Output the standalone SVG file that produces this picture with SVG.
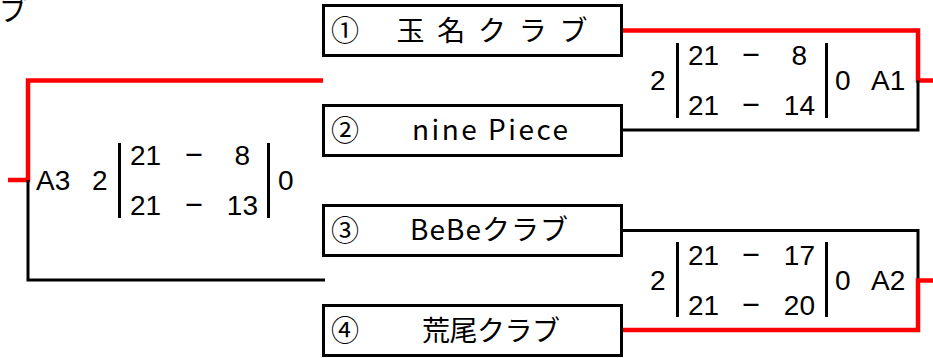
<svg xmlns="http://www.w3.org/2000/svg" width="933" height="358" viewBox="0 0 933 358">
<style>
.box{fill:#fff;stroke:#000;stroke-width:3}
.jp{font-family:"Noto Sans CJK JP","Liberation Sans",sans-serif;font-size:28px;fill:#000}
.num{font-family:"Liberation Sans","Noto Sans CJK JP",sans-serif;font-size:28px;fill:#000}
.dash{font-family:"Noto Sans CJK JP",sans-serif;font-size:21px;font-weight:bold;fill:#000;text-anchor:middle}
.bar{stroke:#000;stroke-width:3;fill:none}
.blk{stroke:#000;stroke-width:3;fill:none}
.red{stroke:#ff0000;stroke-width:4.5;fill:none}
</style>
<rect width="933" height="358" fill="#fff"/>
<text class="jp" x="-1" y="21">ブ</text>
<g id="connectors">
<path class="red" d="M323,80.5 H28 V180 H8"/>
<path class="blk" d="M28,180 V280 H325"/>
<path class="red" d="M622,30.5 H918 V80.5 H933"/>
<path class="blk" d="M918,80.5 V130 H622"/>
<path class="blk" d="M622,230.5 H918 V280.5"/>
<path class="red" d="M933,280.5 H918 V330 H622"/>
</g>
<g id="team1">
<rect class="box" x="323.5" y="5.5" width="298" height="50"/>
<text class="jp" x="331" y="41">①</text>
<text class="jp" x="492" y="41" text-anchor="middle" textLength="191" lengthAdjust="spacing" xml:space="preserve">玉 名 ク ラ ブ</text>
</g>
<g id="team2">
<rect class="box" x="323.5" y="105.5" width="298" height="50"/>
<text class="jp" x="331" y="141">②</text>
<text class="jp" x="490" y="140" text-anchor="middle" textLength="156" lengthAdjust="spacing">nine Piece</text>
</g>
<g id="team3">
<rect class="box" x="323.5" y="205.5" width="298" height="50"/>
<text class="jp" x="331" y="241">③</text>
<text class="jp" x="489" y="240" text-anchor="middle" textLength="158" lengthAdjust="spacing">BeBeクラブ</text>
</g>
<g id="team4">
<rect class="box" x="323.5" y="305.5" width="298" height="50"/>
<text class="jp" x="331" y="341">④</text>
<text class="jp" x="491" y="341" text-anchor="middle" textLength="138" lengthAdjust="spacing">荒尾クラブ</text>
</g>
<g id="matchA1">
<text class="num" x="650" y="90">2</text>
<line class="bar" x1="677.5" y1="43" x2="677.5" y2="118"/>
<text class="num" x="688" y="65">21</text>
<text class="dash" x="751" y="62">－</text>
<text class="num" x="807" y="65" text-anchor="end">8</text>
<text class="num" x="688" y="115">21</text>
<text class="dash" x="751" y="112">－</text>
<text class="num" x="815" y="115" text-anchor="end">14</text>
<line class="bar" x1="826.5" y1="43" x2="826.5" y2="118"/>
<text class="num" x="835" y="90">0</text>
<text class="num" x="871" y="90">A1</text>
</g>
<g id="matchA2">
<text class="num" x="650" y="290">2</text>
<line class="bar" x1="677.5" y1="242" x2="677.5" y2="317"/>
<text class="num" x="688" y="265">21</text>
<text class="dash" x="751" y="262">－</text>
<text class="num" x="815" y="265" text-anchor="end">17</text>
<text class="num" x="688" y="315">21</text>
<text class="dash" x="751" y="312">－</text>
<text class="num" x="815" y="315" text-anchor="end">20</text>
<line class="bar" x1="826.5" y1="242" x2="826.5" y2="317"/>
<text class="num" x="835" y="290">0</text>
<text class="num" x="871" y="290">A2</text>
</g>
<g id="matchA3">
<text class="num" x="36" y="190">A3</text>
<text class="num" x="92" y="190">2</text>
<line class="bar" x1="119.5" y1="143" x2="119.5" y2="218"/>
<text class="num" x="130" y="165">21</text>
<text class="dash" x="194" y="162">－</text>
<text class="num" x="250" y="165" text-anchor="end">8</text>
<text class="num" x="130" y="215">21</text>
<text class="dash" x="194" y="212">－</text>
<text class="num" x="258" y="215" text-anchor="end">13</text>
<line class="bar" x1="268.5" y1="143" x2="268.5" y2="218"/>
<text class="num" x="278" y="190">0</text>
</g>
</svg>
